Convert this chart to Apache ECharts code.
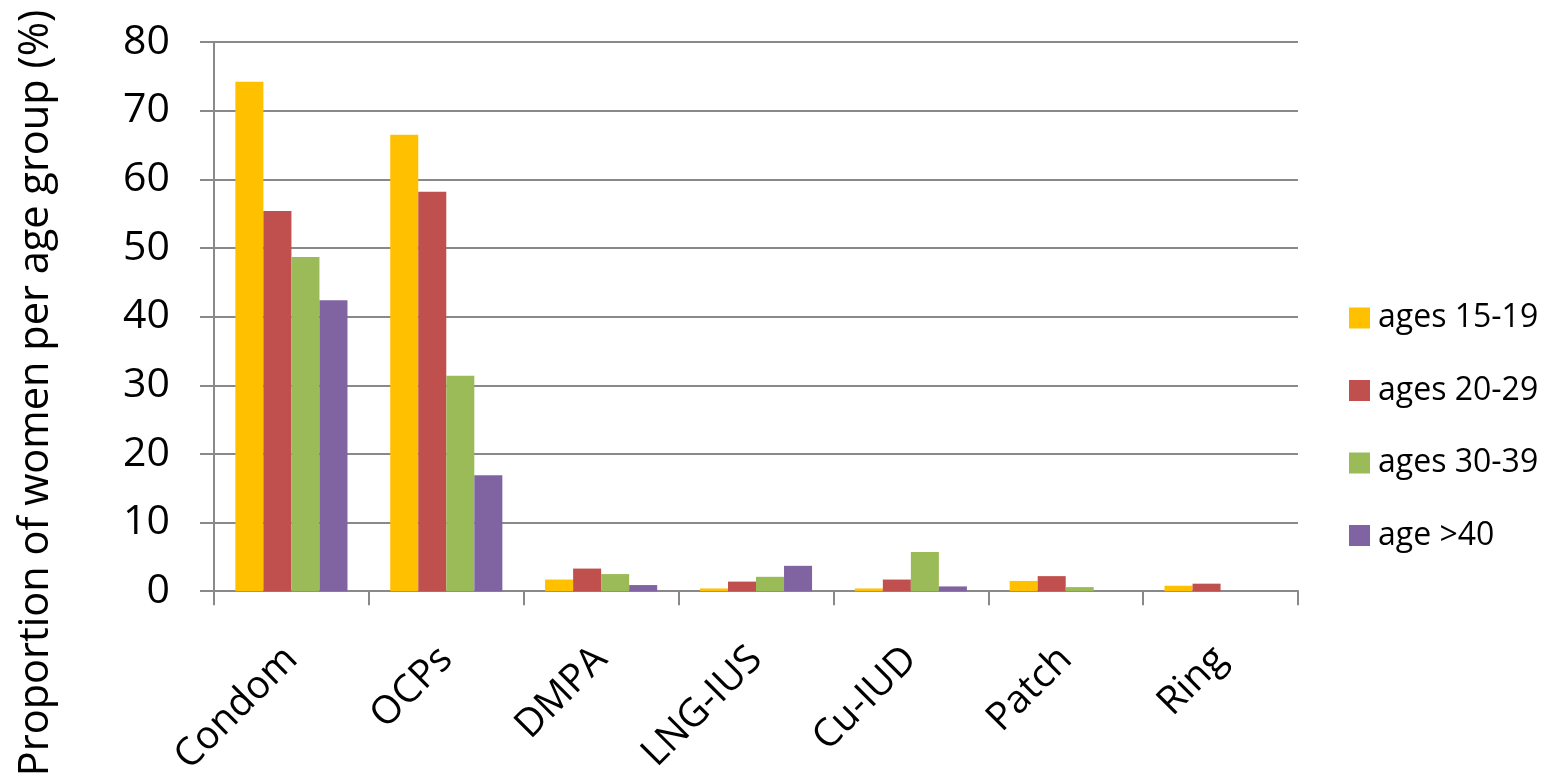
<!DOCTYPE html>
<html>
<head>
<meta charset="utf-8">
<title>Contraceptive use by age group</title>
<script src="https://cdn.jsdelivr.net/npm/echarts@6/dist/echarts.min.js"></script>
<style>
  html, body { margin: 0; padding: 0; background: #ffffff; }
  #chart { width: 1544px; height: 779px; }
</style>
</head>
<body>
<div id="chart"></div>
<script>
// Contraceptive methods on the category axis
const categories = ['Condom', 'OCPs', 'DMPA', 'LNG-IUS', 'Cu-IUD', 'Patch', 'Ring'];

// Proportion of women (%) using each method, by age group
const ages15to19 = [74.2, 66.5, 1.7, 0.4, 0.4, 1.5, 0.8];
const ages20to29 = [55.4, 58.2, 3.3, 1.4, 1.7, 2.2, 1.1];
const ages30to39 = [48.7, 31.4, 2.5, 2.1, 5.7, 0.6, 0];
const ageOver40 = [42.4, 16.9, 0.9, 3.7, 0.7, 0, 0];

const seriesNames = ['ages 15-19', 'ages 20-29', 'ages 30-39', 'age >40'];
const seriesColors = ['#FFC000', '#C0504D', '#9BBB59', '#8064A2'];
const seriesValues = [ages15to19, ages20to29, ages30to39, ageOver40];

const yTickMin = 0, yTickMax = 80, yTickStep = 10;
const yTitle = 'Proportion of women per age group (%)';

const FONT = '"Open Sans", "Noto Sans", "Liberation Sans", sans-serif';
const AXIS_GRAY = '#898989';

const chart = echarts.init(document.getElementById('chart'), null, { renderer: 'canvas' });

chart.setOption({
  backgroundColor: '#ffffff',
  animation: false,
  textStyle: { fontFamily: FONT },
  grid: { left: 214, width: 1084, top: 42, height: 552, containLabel: false },
  legend: {
    orient: 'vertical',
    left: 1344,
    top: 297,
    icon: 'rect',
    itemWidth: 21,
    itemHeight: 21,
    itemGap: 40.5,
    data: seriesNames,
    textStyle: {
      fontFamily: FONT,
      fontSize: 32,
      color: '#000000',
      lineHeight: 21,
      padding: [0, 0, 0, 3]
    }
  },
  xAxis: {
    type: 'category',
    data: categories,
    boundaryGap: true,
    axisLine: { show: true, lineStyle: { color: AXIS_GRAY, width: 2 } },
    axisTick: { show: true, inside: false, length: 14, lineStyle: { color: AXIS_GRAY, width: 2 } },
    axisLabel: {
      rotate: 45,
      margin: 62,
      fontFamily: FONT,
      fontSize: 39,
      color: '#000000',
      interval: 0
    },
    splitLine: { show: false }
  },
  yAxis: {
    type: 'value',
    min: yTickMin,
    max: yTickMax,
    interval: yTickStep,
    axisLine: { show: true, lineStyle: { color: AXIS_GRAY, width: 2 } },
    axisTick: { show: true, inside: false, length: 14, lineStyle: { color: AXIS_GRAY, width: 2 } },
    axisLabel: {
      margin: 44,
      fontFamily: FONT,
      fontSize: 41,
      color: '#000000'
    },
    splitLine: { show: true, lineStyle: { color: AXIS_GRAY, width: 2 } }
  },
  graphic: [{
    type: 'text',
    x: 36,
    y: 393,
    rotation: Math.PI / 2,
    style: {
      text: yTitle,
      fontFamily: FONT,
      fontSize: 41.5,
      fill: '#000000',
      textAlign: 'center',
      textVerticalAlign: 'middle'
    }
  }],
  series: seriesValues.map((values, i) => ({
    name: seriesNames[i],
    type: 'bar',
    data: values,
    barGap: '0%',
    barCategoryGap: '27.6%',
    itemStyle: { color: seriesColors[i] }
  }))
});
</script>
</body>
</html>
